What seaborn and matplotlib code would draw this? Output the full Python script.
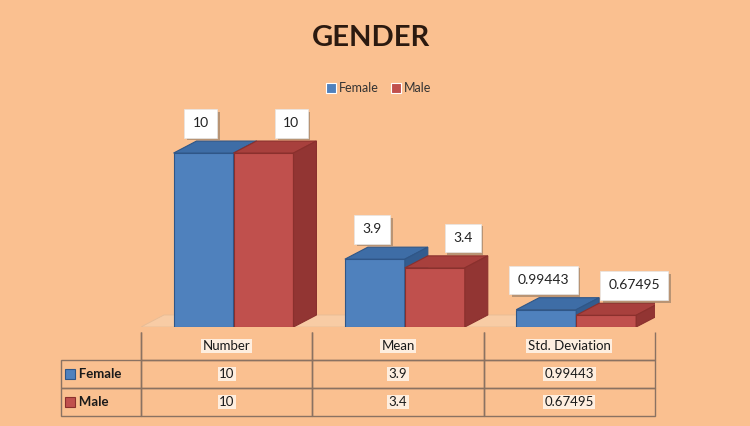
import pandas as pd
import seaborn as sns
import matplotlib.pyplot as plt
import matplotlib.patheffects as pe
from matplotlib.patches import Polygon, Rectangle

categories = ['Number', 'Mean', 'Std. Deviation']
groups = ['Female', 'Male']
female_values = [10, 3.9, 0.99443]
male_values = [10, 3.4, 0.67495]

BG = '#FAC090'
FRONT = {'Female': '#4F81BD', 'Male': '#C0504D'}
TOP = {'Female': '#3E6DA6', 'Male': '#A8403D'}
SIDE = {'Female': '#335C8F', 'Male': '#923533'}
EDGE = {'Female': '#2F5687', 'Male': '#8A302D'}


def main():
    sns.set_style('white')
    plt.rcParams['font.family'] = ['Lato', 'DejaVu Sans']

    df = pd.DataFrame({'stat': categories * 2,
                       'gender': ['Female'] * 3 + ['Male'] * 3,
                       'value': female_values + male_values})

    fig = plt.figure(figsize=(7.5, 4.26), dpi=100)
    fig.patch.set_facecolor(BG)
    ax = fig.add_axes([141 / 750, 99 / 426, 514 / 750, 227 / 426])

    sns.barplot(data=df, x='stat', y='value', hue='gender', hue_order=groups,
                palette=FRONT, width=0.7, ax=ax, saturation=1, linewidth=0.8)
    handles, labels = ax.get_legend_handles_labels()
    ax.get_legend().remove()
    ax.set_xlim(-0.54, 2.46)
    ax.set_ylim(0, 13.05)
    ax.set_axis_off()

    # fake 3D depth
    dx, dy = 0.134, 0.69
    floor = Polygon([(-0.54, 0), (-0.54 + dx, dy), (2.46, dy), (2.46 - dx, 0)],
                    closed=True, fc='#F8CCA5', ec='#E6BC96', lw=0.6, zorder=1)
    ax.add_patch(floor)

    for i, (g, cont) in enumerate(zip(groups, ax.containers)):
        zo = 2 + i
        for bar in cont:
            x, w, h = bar.get_x(), bar.get_width(), bar.get_height()
            bar.set_edgecolor(EDGE[g])
            bar.set_zorder(zo)
            top = Polygon([(x, h), (x + dx, h + dy), (x + w + dx, h + dy), (x + w, h)],
                          closed=True, fc=TOP[g], ec=EDGE[g], lw=0.8, zorder=zo)
            side = Polygon([(x + w, 0), (x + w + dx, dy), (x + w + dx, h + dy), (x + w, h)],
                           closed=True, fc=SIDE[g], ec=EDGE[g], lw=0.8, zorder=zo)
            ax.add_patch(top)
            ax.add_patch(side)
            off = -2 if g == 'Female' else 20
            t = ax.annotate(f'{h:g}', xy=(x + w / 2, h), xytext=(off, 21.5),
                            textcoords='offset points', ha='center', va='center',
                            fontsize=10, color='#222222', zorder=6,
                            bbox=dict(boxstyle='square,pad=0.6', fc='white',
                                      ec='#E6E6E6', lw=0.5))
            t.get_bbox_patch().set_path_effects(
                [pe.withSimplePatchShadow(offset=(2, -2), shadow_rgbFace='#7a6a5a', alpha=0.5)])

    # data table under the bars (first column holds the series names)
    cell_text = [['   ' + groups[0]] + [f'{v:g}' for v in female_values],
                 ['   ' + groups[1]] + [f'{v:g}' for v in male_values]]
    row_w = 80 / 514
    tbl = ax.table(cellText=cell_text, colLabels=[''] + categories,
                   colWidths=[row_w] + [1 / 3] * 3, cellLoc='center',
                   bbox=[-row_w, -0.392, 1 + row_w, 0.37])
    tbl.auto_set_font_size(False)
    for (r, c), cell in tbl.get_celld().items():
        cell.set_facecolor('none')
        cell.set_edgecolor('#8A7262')
        cell.set_linewidth(1)
        txt = cell.get_text()
        txt.set_fontsize(9.5)
        txt.set_color('#1a1a1a')
        if r == 0:
            cell.visible_edges = 'R' if c == 0 else 'BLR'
        if c == 0:
            txt.set_fontweight('bold')
            txt.set_horizontalalignment('left')
        else:
            txt.set_bbox(dict(fc='#FEEEDF', ec='none', pad=1))

    row_h = 0.37 / 3
    for i, g in enumerate(groups):
        yc = -0.022 - row_h * (1.5 + i)
        ax.add_patch(Rectangle((-0.147, yc - 0.022), 0.019, 0.044,
                               transform=ax.transAxes, fc=FRONT[g], ec=EDGE[g],
                               lw=0.8, clip_on=False, zorder=7))

    fig.legend(handles, labels, loc='center', bbox_to_anchor=(0.505, 0.793), ncol=2,
               frameon=False, fontsize=9, handlelength=0.8, handleheight=0.8,
               handletextpad=0.2, columnspacing=1.0, labelcolor='#333333')
    fig.text(0.495, 0.911, 'GENDER', ha='center', va='center', fontsize=21,
             fontweight='bold', color='#2B1A10')

    fig.savefig('out.png', dpi=100, facecolor=BG)


if __name__ == '__main__':
    main()
